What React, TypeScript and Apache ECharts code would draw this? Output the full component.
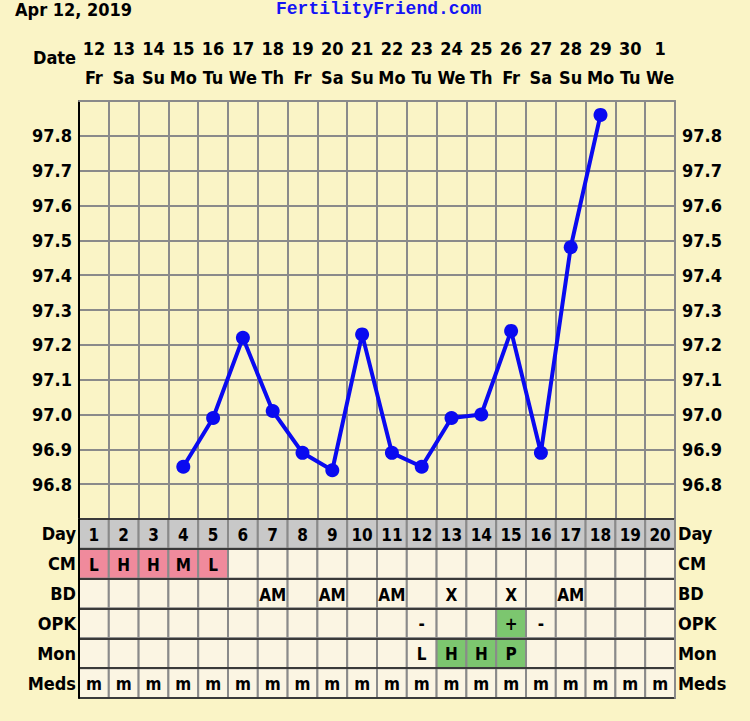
import React, { useEffect, useRef } from "react";
import * as echarts from "echarts";

const chartDate = "Apr 12, 2019";
const siteName = "FertilityFriend.com";
const dates = ["12","13","14","15","16","17","18","19","20","21","22","23","24","25","26","27","28","29","30","1"];
const weekdays = ["Fr","Sa","Su","Mo","Tu","We","Th","Fr","Sa","Su","Mo","Tu","We","Th","Fr","Sa","Su","Mo","Tu","We"];
const cycleDays = ["1","2","3","4","5","6","7","8","9","10","11","12","13","14","15","16","17","18","19","20"];
const temps: (number | null)[] = [null, null, null, 96.85, 96.99, 97.22, 97.01, 96.89, 96.84, 97.23, 96.89, 96.85, 96.99, 97.0, 97.24, 96.89, 97.48, 97.86, null, null];
const rowLabels = ["Day", "CM", "BD", "OPK", "Mon", "Meds"];
const cmValues = ["L","H","H","M","L","","","","","","","","","","","","","","",""];
const bdValues = ["","","","","","","AM","","AM","","AM","","X","","X","","AM","","",""];
const opkValues = ["","","","","","","","","","","","-","","","+","-","","","",""];
const monValues = ["","","","","","","","","","","","L","H","H","P","","","","",""];
const medsValues = ["m","m","m","m","m","m","m","m","m","m","m","m","m","m","m","m","m","m","m","m"];
const tempMin = 96.7;
const tempMax = 97.9;
const tempStep = 0.1;

const FONT = "'DejaVu Sans Condensed', 'DejaVu Sans', sans-serif";
const BG = "#faf4c6";
const CELL = "#fbf5e3";
const DAYCELL = "#c8c8c8";
const PINK = "#f08a9c";
const GREEN = "#7cc66f";
const GRID = "#8a8a8a";
const DARK = "#3a3a3a";
const BLUE = "#0a0af0";

export default function App() {
  const ref = useRef<HTMLDivElement>(null);
  useEffect(() => {
    document.body.style.margin = "0";
    const chart = echarts.init(ref.current!, null, { renderer: "svg" });
    const rows = [cycleDays, cmValues, bdValues, opkValues, monValues, medsValues];
    const cells: { c: number; r: number; text: string; color: string }[] = [];
    rows.forEach((vals, r) => {
      vals.forEach((v, c) => {
        let color = CELL;
        if (r === 0) color = DAYCELL;
        else if (r === 1 && v !== "") color = PINK;
        else if (r === 3 && v === "+") color = GREEN;
        else if (r === 4 && (v === "H" || v === "P")) color = GREEN;
        cells.push({ c, r, text: v, color });
      });
    });
    const labelStyle = { fontFamily: FONT, fontWeight: "bold", fontSize: 18, color: "#000" };
    chart.setOption({
      animation: false,
      backgroundColor: BG,
      title: [
        { text: chartDate, left: 10, top: -5, textStyle: { ...labelStyle } },
        { text: siteName, left: 271, top: -5, textStyle: { fontFamily: "'Liberation Mono', monospace", fontWeight: "bold", fontSize: 18, color: "#1414f5" } },
      ],
      graphic: [
        { type: "text", left: 33, top: 48, style: { text: "Date", font: `bold 18px ${FONT}`, fill: "#000" } },
      ],
      grid: [
        { left: 79, right: 75, top: 101, height: 418 },
        { left: 79, right: 75, top: 519, height: 179 },
      ],
      xAxis: [
        {
          gridIndex: 0, type: "category", position: "top", data: dates, boundaryGap: true,
          axisLine: { show: true, lineStyle: { color: GRID, width: 2 } },
          axisTick: { show: false },
          axisLabel: {
            interval: 0, margin: 9,
            formatter: (v: string, i: number) => `{d|${v}}\n{w|${weekdays[i]}}`,
            rich: {
              d: { ...labelStyle, lineHeight: 29 },
              w: { ...labelStyle, lineHeight: 29 },
            },
          },
          splitLine: { show: true, interval: 0, lineStyle: { color: GRID, width: 2 } },
        },
        {
          gridIndex: 1, type: "category", data: cycleDays, boundaryGap: true,
          axisLine: { show: false }, axisTick: { show: false }, axisLabel: { show: false },
          splitLine: { show: false },
        },
      ],
      yAxis: [
        {
          gridIndex: 0, type: "value", min: tempMin, max: tempMax, interval: tempStep, position: "left",
          axisLine: { show: true, lineStyle: { color: "#000", width: 2 } },
          axisTick: { show: false },
          axisLabel: { ...labelStyle, margin: 7, showMinLabel: false, showMaxLabel: false, formatter: (v: number) => v.toFixed(1) },
          splitLine: { show: true, lineStyle: { color: GRID, width: 2 } },
        },
        {
          gridIndex: 0, type: "value", min: tempMin, max: tempMax, interval: tempStep, position: "right",
          axisLine: { show: true, lineStyle: { color: GRID, width: 2 } },
          axisTick: { show: false },
          axisLabel: { ...labelStyle, margin: 7, showMinLabel: false, showMaxLabel: false, formatter: (v: number) => v.toFixed(1) },
          splitLine: { show: false },
        },
        {
          gridIndex: 1, type: "category", data: rowLabels, inverse: true, position: "left", z: 10,
          axisLine: { show: true, lineStyle: { color: "#000", width: 2 } },
          axisTick: { show: false },
          axisLabel: { ...labelStyle, margin: 3, interval: 0 },
          splitLine: { show: true, interval: 0, lineStyle: { color: DARK, width: 2 } },
        },
        {
          gridIndex: 1, type: "category", data: rowLabels, inverse: true, position: "right", z: 10,
          axisLine: { show: true, lineStyle: { color: GRID, width: 2 } },
          axisTick: { show: false },
          axisLabel: { ...labelStyle, margin: 3, interval: 0 },
          splitLine: { show: false },
        },
      ],
      series: [
        {
          type: "custom", xAxisIndex: 1, yAxisIndex: 2,
          data: cells.map((d) => [d.c, d.r]),
          renderItem: (params: any, api: any) => {
            const d = cells[params.dataIndex];
            const pt = api.coord([api.value(0), api.value(1)]);
            const size = api.size([1, 1]);
            return {
              type: "group",
              children: [
                {
                  type: "rect",
                  shape: { x: pt[0] - size[0] / 2, y: pt[1] - size[1] / 2, width: size[0], height: size[1] },
                  style: { fill: d.color, stroke: GRID, lineWidth: 2 },
                },
                {
                  type: "text",
                  x: pt[0], y: pt[1] + 1,
                  style: { text: d.text, font: `bold 17px ${FONT}`, fill: "#000", align: "center", verticalAlign: "middle" },
                },
              ],
            };
          },
          silent: true,
        },
        {
          type: "line", xAxisIndex: 0, yAxisIndex: 0, data: temps, connectNulls: false,
          symbol: "circle", symbolSize: 14,
          lineStyle: { color: BLUE, width: 4 },
          itemStyle: { color: BLUE },
          z: 5,
        },
      ],
    });
    return () => chart.dispose();
  }, []);
  return <div ref={ref} style={{ position: "fixed", left: 0, top: 0, width: 750, height: 721 }} />;
}
